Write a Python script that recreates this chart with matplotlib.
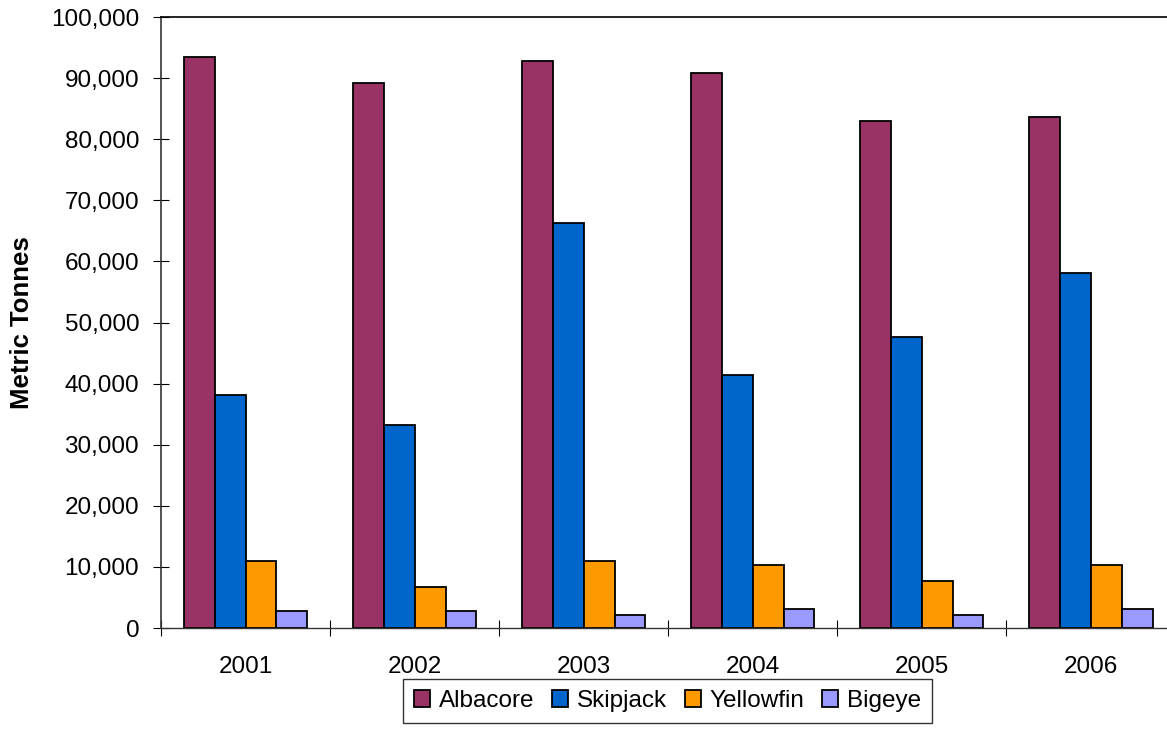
import matplotlib.pyplot as plt
import numpy as np
from matplotlib.ticker import FuncFormatter

plt.rcParams['font.family'] = ['Liberation Sans', 'DejaVu Sans']

# catch by year, metric tonnes
years = ["2001", "2002", "2003", "2004", "2005", "2006"]
albacore = [93500, 89200, 92800, 90800, 83000, 83600]
skipjack = [38100, 33200, 66300, 41400, 47600, 58100]
yellowfin = [11000, 6700, 11000, 10300, 7700, 10300]
bigeye = [2800, 2800, 2100, 3100, 2100, 3100]

series = [
    ("Albacore", albacore, "#993366"),
    ("Skipjack", skipjack, "#0066CC"),
    ("Yellowfin", yellowfin, "#FF9900"),
    ("Bigeye", bigeye, "#9999FF"),
]

fig = plt.figure(figsize=(11.67, 7.53), dpi=100)
ax = fig.add_axes([0.138, 0.166, 0.869, 0.8114])

x = np.arange(len(years))
w = 0.183
for i, (name, vals, col) in enumerate(series):
    ax.bar(x + (i - 1.5) * w, vals, w, color=col, edgecolor="black",
           linewidth=1.3, label=name)

ax.set_xlim(-0.5, len(years) - 0.5)
ax.set_ylim(0, 100000)
ax.set_yticks(np.arange(0, 100001, 10000))
ax.yaxis.set_major_formatter(FuncFormatter(lambda v, p: f"{int(v):,}"))
ax.set_xticks(x)
ax.set_xticklabels(years)
ax.set_xticks(np.arange(-0.5, len(years)), minor=True)
ax.tick_params(axis="x", which="major", length=0, pad=20, labelsize=17.5)
ax.tick_params(axis="x", which="minor", direction="inout", length=12, width=0.8)
ax.tick_params(axis="y", direction="inout", length=11.5, width=0.8, labelsize=17.5, pad=10)

ax.spines["right"].set_visible(False)
ax.spines["top"].set_linewidth(1.2)
ax.spines["left"].set_linewidth(1.2)
ax.spines["left"].set_color("#333333")
ax.spines["bottom"].set_linewidth(1.0)
ax.spines["bottom"].set_color("#333333")

ax.set_ylabel("Metric Tonnes", fontsize=18.5, fontweight="bold")
ax.yaxis.set_label_coords(-0.125, 0.5)

fig.legend(loc="center", bbox_to_anchor=(0.572, 0.069), ncol=4, frameon=True,
           fancybox=False, edgecolor="black", fontsize=17.5, handlelength=0.65,
           handleheight=0.65, handletextpad=0.35, columnspacing=0.75,
           borderpad=0.45, borderaxespad=0)

fig.savefig("out.png", dpi=100)
